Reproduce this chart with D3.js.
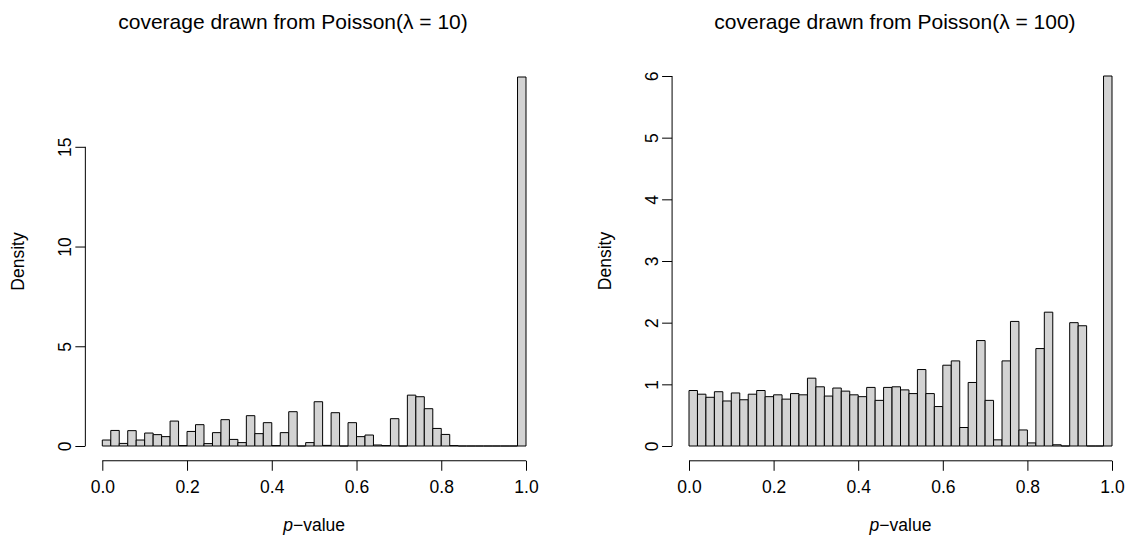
<!DOCTYPE html>
<html>
<head>
<meta charset="utf-8">
<script src="https://cdn.jsdelivr.net/npm/d3@7"></script>
<style>
  body { margin: 0; background: #fff; }
  svg text { font-family: "Liberation Sans", Arial, Helvetica, sans-serif; fill: #000; }
</style>
</head>
<body>
<div id="chart"></div>
<script>
// histogram densities, 50 bins of width 0.02 on [0, 1]
var binWidth = 0.02;

var densLambda10 = [
  0.30, 0.78, 0.13, 0.77, 0.30, 0.65, 0.57, 0.47, 1.25, 0.02,
  0.73, 1.07, 0.12, 0.67, 1.32, 0.33, 0.17, 1.52, 0.62, 1.17,
  0.02, 0.67, 1.72, 0.00, 0.17, 2.22, 0.03, 1.67, 0.00, 1.17,
  0.47, 0.55, 0.05, 0.02, 1.37, 0.00, 2.55, 2.47, 1.87, 0.88,
  0.58, 0.02, 0.00, 0.00, 0.00, 0.00, 0.00, 0.00, 0.00, 18.5
];

var densLambda100 = [
  0.90, 0.84, 0.79, 0.88, 0.73, 0.86, 0.75, 0.84, 0.90, 0.80,
  0.83, 0.76, 0.85, 0.83, 1.10, 0.96, 0.81, 0.94, 0.89, 0.83,
  0.80, 0.95, 0.74, 0.95, 0.96, 0.91, 0.85, 1.24, 0.85, 0.64,
  1.31, 1.38, 0.30, 1.03, 1.71, 0.74, 0.10, 1.38, 2.02, 0.26,
  0.05, 1.58, 2.17, 0.02, 0.00, 2.00, 1.95, 0.00, 0.00, 6.00
];

var titles = ["coverage drawn from Poisson(\u03bb = 10)", "coverage drawn from Poisson(\u03bb = 100)"];
var xTicks = [0, 0.2, 0.4, 0.6, 0.8, 1.0];
var yTicks10 = [0, 5, 10, 15];
var yTicks100 = [0, 1, 2, 3, 4, 5, 6];

var $svg = d3.select('#chart').append('svg')
    .attr('width', 1126)
    .attr('height', 538);

function drawHist(dens, title, titleX, yTicks, yMax, left, right, top) {
  var base = 446;
  var x = d3.scaleLinear().domain([0, 1]).range([left, right]);
  var y = d3.scaleLinear().domain([0, yMax]).range([base, top]);
  var g = $svg.append('g');

  // bars as paths so empty bins still show a line on the baseline
  g.selectAll('path.bar')
    .data(dens)
    .enter()
    .append('path')
    .attr('class', 'bar')
    .attr('d', function(d, i) {
      var x0 = x(i * binWidth), x1 = x((i + 1) * binWidth);
      return 'M' + x0 + ',' + y(0) + 'V' + y(d) + 'H' + x1 + 'V' + y(0) + 'Z';
    })
    .style('fill', '#d3d3d3')
    .style('stroke', '#000')
    .style('stroke-width', 1);

  // x axis, R style: line from first to last tick
  var axisY = y(-0.04 * yMax);
  var xa = g.append('g')
    .attr('transform', 'translate(0,' + axisY + ')')
    .call(d3.axisBottom(x).tickValues(xTicks).tickSize(10).tickPadding(10)
      .tickFormat(d3.format('.1f')));
  xa.select('.domain').remove();
  xa.append('line')
    .attr('x1', x(xTicks[0])).attr('x2', x(xTicks[xTicks.length - 1]))
    .attr('stroke', '#000');
  xa.selectAll('text').style('font-size', '17.5px').attr('fill', '#000');

  // y axis
  var axisX = x(-0.04);
  var ya = g.append('g')
    .attr('transform', 'translate(' + axisX + ',0)')
    .call(d3.axisLeft(y).tickValues(yTicks).tickSize(10).tickFormat(d3.format('d')));
  ya.select('.domain').remove();
  ya.append('line')
    .attr('y1', y(yTicks[0])).attr('y2', y(yTicks[yTicks.length - 1]))
    .attr('stroke', '#000');
  ya.selectAll('.tick text')
    .attr('x', null).attr('dy', null)
    .attr('transform', 'translate(-14,0) rotate(-90)')
    .style('text-anchor', 'middle')
    .style('font-size', '17.5px')
    .attr('fill', '#000');

  // title
  g.append('text')
    .attr('x', titleX)
    .attr('y', 29)
    .style('text-anchor', 'middle')
    .style('font-size', '21px')
    .text(title);

  // x label
  var xl = g.append('text')
    .attr('x', (x(0) + x(1)) / 2)
    .attr('y', 531)
    .style('text-anchor', 'middle')
    .style('font-size', '17.5px');
  xl.append('tspan').style('font-style', 'italic').text('p');
  xl.append('tspan').text('\u2212value');

  // y label
  g.append('text')
    .attr('transform', 'translate(' + (axisX - 61) + ',' + ((base + top) / 2) + ') rotate(-90)')
    .style('text-anchor', 'middle')
    .style('font-size', '17.5px')
    .text('Density');
}

drawHist(densLambda10, titles[0], 293, yTicks10, 18.5, 102.3, 526, 77);
drawHist(densLambda100, titles[1], 895, yTicks100, 6.0, 689, 1112, 76);
</script>
</body>
</html>
